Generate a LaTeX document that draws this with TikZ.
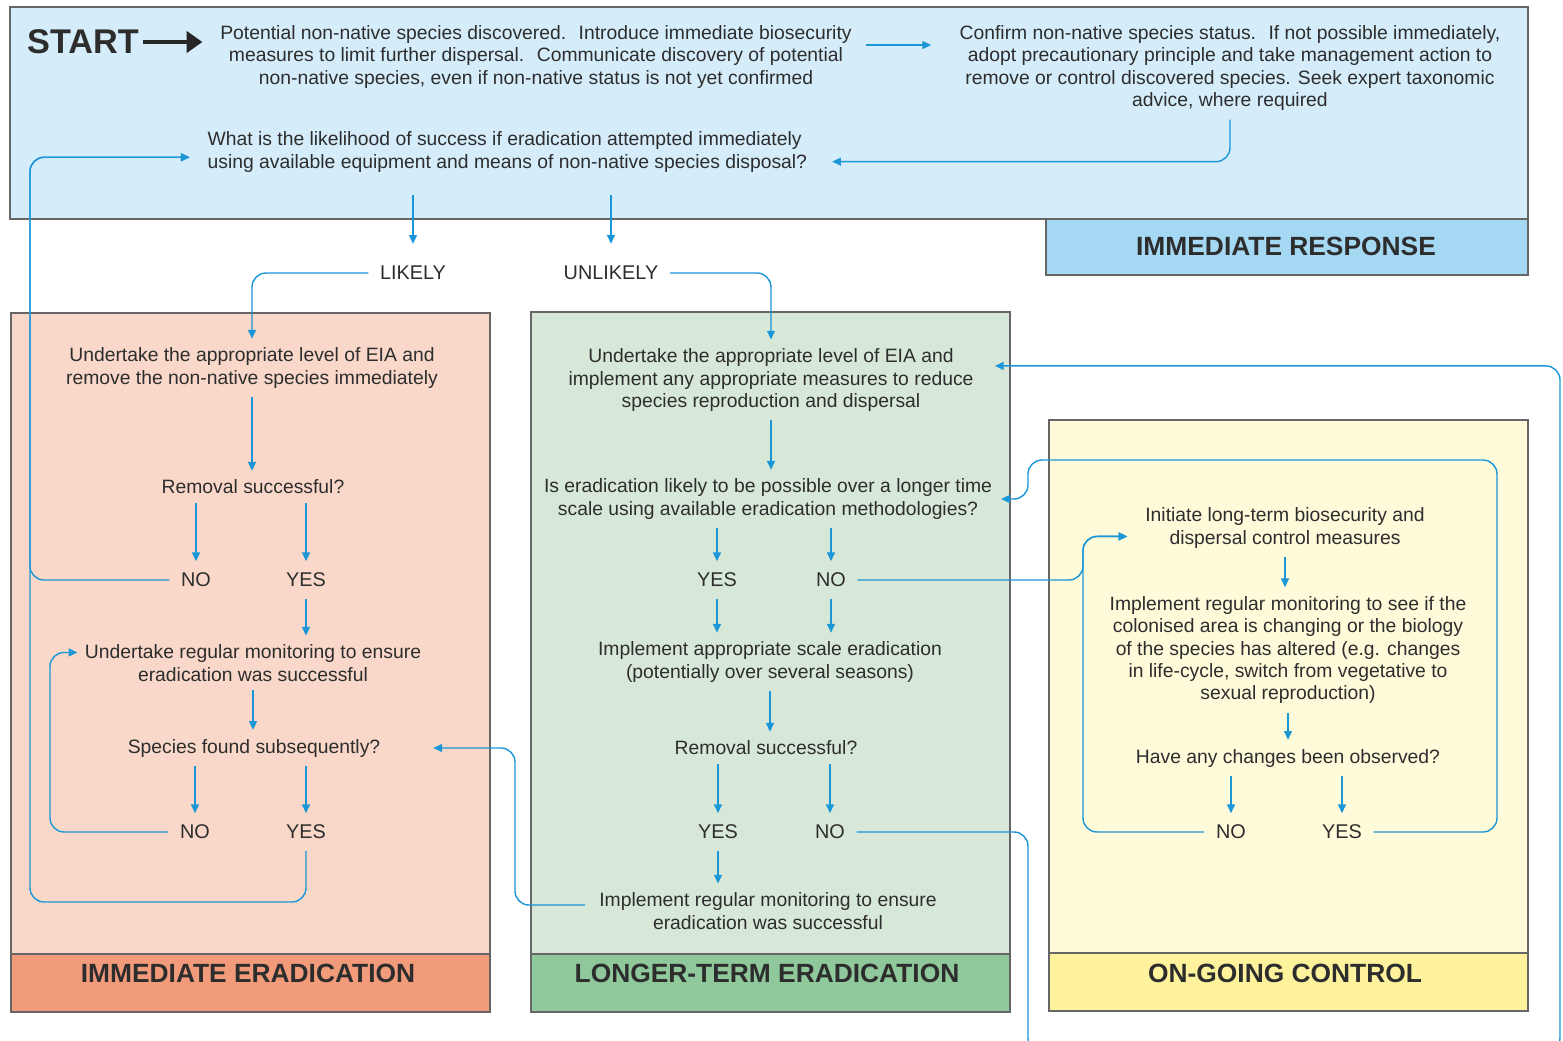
\documentclass[tikz,border=0pt]{standalone}
\usepackage{fontspec}
\setmainfont{Liberation Sans}
\usetikzlibrary{arrows.meta}

\definecolor{flowblue}{RGB}{27,150,214}
\definecolor{respfill}{RGB}{213,236,250}
\definecolor{resplab}{RGB}{165,216,243}
\definecolor{eradfill}{RGB}{249,216,202}
\definecolor{eradlab}{RGB}{242,155,123}
\definecolor{longfill}{RGB}{215,232,216}
\definecolor{longlab}{RGB}{143,200,154}
\definecolor{ctrlfill}{RGB}{255,250,218}
\definecolor{ctrllab}{RGB}{255,242,157}
\definecolor{textgray}{RGB}{45,45,45}

\begin{document}
\begin{tikzpicture}[x=0.02cm,y=-0.02cm,
    panel/.style={draw=black!60,line width=1pt},
    paneltitle/.style={text=textgray,font=\fontsize{15}{18}\selectfont\bfseries},
    txt/.style={align=center,inner sep=3pt,text=textgray,font=\fontsize{11}{12.7}\selectfont},
    ans/.style={inner sep=4.5pt,text=textgray,font=\fontsize{11.3}{13}\selectfont},
    flow/.style={draw=flowblue,line width=0.8pt,shorten <=2pt,shorten >=2pt,-{Triangle[length=5pt,width=4.5pt]}},
    bigarrow/.style={draw=black!85,line width=2.6pt,-{Triangle[length=9pt,width=12pt]}}]
     \useasboundingbox (0,0) rectangle (1563,1041);
     \fill[white] (0,0) rectangle (1563,1041);

     \filldraw[panel,fill=respfill] (  10,   7) rectangle (1528, 219);
     \filldraw[panel,fill=resplab]  (1046, 219) rectangle (1528, 275);
     \filldraw[panel,fill=eradfill] (  11, 313) rectangle ( 490, 954);
     \filldraw[panel,fill=eradlab]  (  11, 954) rectangle ( 490,1012);
     \filldraw[panel,fill=longfill] ( 531, 312) rectangle (1010, 954);
     \filldraw[panel,fill=longlab]  ( 531, 954) rectangle (1010,1012);
     \filldraw[panel,fill=ctrlfill] (1049, 420) rectangle (1528, 953);
     \filldraw[panel,fill=ctrllab]  (1049, 953) rectangle (1528,1011);

     \node[paneltitle] (resp)     at (1286, 246) {IMMEDIATE RESPONSE};
     \node[paneltitle] (erad)     at ( 248, 973) {IMMEDIATE ERADICATION};
     \node[paneltitle] (longterm) at ( 767, 973) {LONGER-TERM ERADICATION};
     \node[paneltitle] (ctrl)     at (1285, 973) {ON-GOING CONTROL};

     \node[text=textgray,inner sep=2pt,font=\fontsize{19.5}{22}\selectfont\bfseries] (start) at (83,42) {START};
     \node[txt] (found)   at ( 536,  57) {Potential non-native species discovered.~ Introduce immediate biosecurity\\measures to limit further dispersal.~ Communicate discovery of potential\\non-native species, even if non-native status is not yet confirmed};
     \node[txt] (confirm) at (1230,  68) {Confirm non-native species status.~ If not possible immediately,\\adopt precautionary principle and take management action to\\remove or control discovered species. Seek expert taxonomic\\advice, where required};
     \node[txt,align=left,anchor=west] (chance) at (202,152) {What is the likelihood of success if eradication attempted immediately\\using available equipment and means of non-native species disposal?};
     \node[ans] (likely)   at ( 413, 273) {LIKELY};
     \node[ans] (unlikely) at ( 611, 273) {UNLIKELY};

     \node[txt] (remove)     at ( 252, 368) {Undertake the appropriate level of EIA and\\remove the non-native species immediately};
     \node[txt] (removeok)   at ( 253, 487) {Removal successful?};
     \node[ans] (removeno)   at ( 196, 580) {NO};
     \node[ans] (removeyes)  at ( 306, 580) {YES};
     \node[txt] (monitor)    at ( 253, 663) {Undertake regular monitoring to ensure\\eradication was successful};
     \node[txt] (refound)    at ( 254, 748) {Species found subsequently?};
     \node[ans] (refoundno)  at ( 195, 832) {NO};
     \node[ans] (refoundyes) at ( 306, 832) {YES};

     \node[txt] (reduce)      at ( 771, 380) {Undertake the appropriate level of EIA and\\implement any appropriate measures to reduce\\species reproduction and dispersal};
     \node[txt] (possible)    at ( 768, 499) {Is eradication likely to be possible over a longer time\\scale using available eradication methodologies?};
     \node[ans] (possibleyes) at ( 717, 580) {YES};
     \node[ans] (possibleno)  at ( 831, 580) {NO};
     \node[txt] (scale)       at ( 770, 662) {Implement appropriate scale eradication\\(potentially over several seasons)};
     \node[txt] (scaleok)     at ( 766, 748) {Removal successful?};
     \node[ans] (scaleyes)    at ( 718, 832) {YES};
     \node[ans] (scaleno)     at ( 830, 832) {NO};
     \node[txt] (check)       at ( 768, 911) {Implement regular monitoring to ensure\\eradication was successful};

     \node[txt] (initiate)   at (1285, 528) {Initiate long-term biosecurity and\\dispersal control measures};
     \node[txt] (watch)      at (1288, 650) {Implement regular monitoring to see if the\\colonised area is changing or the biology\\of the species has altered (e.g. changes\\in life-cycle, switch from vegetative to\\sexual reproduction)};
     \node[txt] (changes)    at (1288, 758) {Have any changes been observed?};
     \node[ans] (changesno)  at (1231, 832) {NO};
     \node[ans] (changesyes) at (1342, 832) {YES};

     \coordinate (leftrail)   at (  30,   0);
     \coordinate (innerrail)  at (  50,   0);
     \coordinate (midrail)    at ( 515,   0);
     \coordinate (gaprail)    at (1028,   0);
     \coordinate (ctrlrail)   at (1083,   0);
     \coordinate (yesrail)    at (1497,   0);
     \coordinate (rightrail)  at (1560,   0);
     \coordinate (toprail)    at (   0, 460);
     \coordinate (backrail)   at (   0, 902);
     \coordinate (bottomrail) at (   0,1052);
     \coordinate (foundout)   at ([yshift=6.8pt,xshift=3pt]found.east);
     \coordinate (chancein)   at ([yshift=-3pt,xshift=-5pt]chance.west);
     \coordinate (chanceback) at ([yshift=-5.5pt,xshift=9pt]chance.east);
     \coordinate (monitorin)  at ([yshift=6pt,xshift=1pt]monitor.west);
     \coordinate (refoundin)  at ([xshift=25pt]refound.east);
     \coordinate (reducein)   at ([yshift=8pt,xshift=7pt]reduce.east);
     \coordinate (checkout)   at ([yshift=3.4pt,xshift=-3pt]check.west);
     \coordinate (initiatein) at ([yshift=-4.8pt,xshift=-5pt]initiate.west);

     \draw[bigarrow] (start.east) -- ([xshift=-7pt]start.east -| found.west);
     \draw[flow,shorten >=13pt] (foundout) -- (foundout -| confirm.west);
     \draw[flow,rounded corners=8pt] (confirm.south) |- (chanceback);
     \draw[flow,shorten <=10pt,shorten >=8pt] (likely |- chance.south) -- (likely.north);
     \draw[flow,shorten <=10pt,shorten >=8pt] (unlikely |- chance.south) -- (unlikely.north);
     \draw[flow,rounded corners=8pt] (likely.west) -| (remove.north);
     \draw[flow,rounded corners=8pt] (unlikely.east) -| (reduce.north);

     \draw[flow] (remove.south) -- (remove.south |- removeok.north);
     \draw[flow] (removeno |- removeok.south) -- (removeno.north);
     \draw[flow] (removeyes |- removeok.south) -- (removeyes.north);
     \draw[flow] (removeyes.south) -- (removeyes |- monitor.north);
     \draw[flow] (monitor.south) -- (monitor.south |- refound.north);
     \draw[flow] (refoundno |- refound.south) -- (refoundno.north);
     \draw[flow] (refoundyes |- refound.south) -- (refoundyes.north);
     \draw[flow,rounded corners=8pt] (removeno.west) -- (removeno.west -| leftrail) -- (leftrail |- chancein) -- (chancein);
     \draw[flow,rounded corners=8pt] (refoundyes.south) -- (refoundyes |- backrail) -- (leftrail |- backrail) -- (leftrail |- chancein) -- (chancein);
     \draw[flow,rounded corners=8pt] (refoundno.west) -- (refoundno.west -| innerrail) -- (innerrail |- monitorin) -- (monitorin);
     \draw[flow,rounded corners=8pt] (checkout) -- (checkout -| midrail) -- (midrail |- refoundin) -- (refoundin);

     \draw[flow] (reduce.south) -- (reduce.south |- possible.north);
     \draw[flow] (possibleyes |- possible.south) -- (possibleyes.north);
     \draw[flow] (possibleno |- possible.south) -- (possibleno.north);
     \draw[flow] (possibleyes.south) -- (possibleyes |- scale.north);
     \draw[flow] (possibleno.south) -- (possibleno |- scale.north);
     \draw[flow] (scale.south) -- (scale.south |- scaleok.north);
     \draw[flow] (scaleyes |- scaleok.south) -- (scaleyes.north);
     \draw[flow] (scaleno |- scaleok.south) -- (scaleno.north);
     \draw[flow] (scaleyes.south) -- (scaleyes |- check.north);
     \draw[flow,rounded corners=8pt] (possibleno.east) -- (possibleno.east -| ctrlrail) -- (ctrlrail |- initiatein) -- (initiatein);
     \draw[flow,rounded corners=8pt] (scaleno.east) -- (scaleno.east -| gaprail) -- (gaprail |- bottomrail) -- (rightrail |- bottomrail) -- (rightrail |- reducein) -- (reducein);

     \draw[flow] (initiate.south) -- (initiate.south |- watch.north);
     \draw[flow] (watch.south) -- (watch.south |- changes.north);
     \draw[flow] (changesno |- changes.south) -- (changesno.north);
     \draw[flow] (changesyes |- changes.south) -- (changesyes.north);
     \draw[flow,rounded corners=8pt] (changesno.west) -- (changesno.west -| ctrlrail) -- (ctrlrail |- initiatein) -- (initiatein);
     \draw[flow,rounded corners=8pt] (changesyes.east) -- (changesyes.east -| yesrail) -- (yesrail |- toprail) -- (gaprail |- toprail) -- (gaprail |- possible.east) -- (possible.east);
    \end{tikzpicture}
\end{document}
